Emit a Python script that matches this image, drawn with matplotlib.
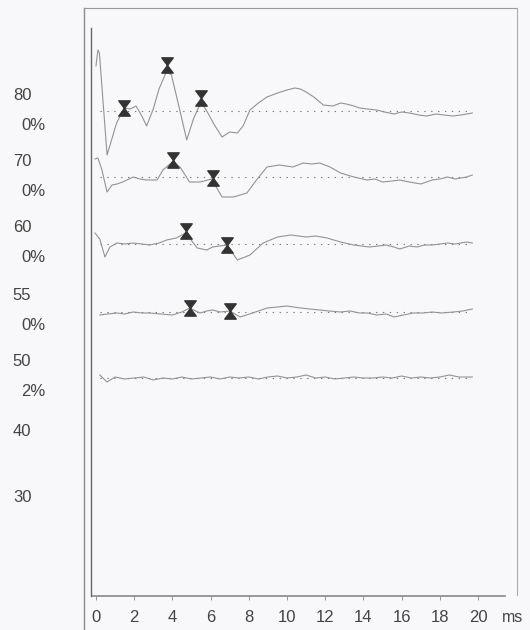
import matplotlib
matplotlib.use('Agg')
import matplotlib.pyplot as plt
from matplotlib.path import Path
from matplotlib.lines import Line2D
import numpy as np

plt.rcParams['font.family'] = ['Liberation Sans', 'DejaVu Sans']

## stimulus levels (dB) and the % values printed under them ##
levels = ['80', '70', '60', '55', '50', '40', '30']
percents = ['0%', '0%', '0%', '0%', '2%', '', '']

## waveform samples: time (ms) and amplitude (arbitrary units) ##
t80 = [0.0, 0.1, 0.18, 0.58, 0.8, 1.08, 1.48, 1.8, 2.1, 2.4, 2.65, 3.0, 3.3, 3.7, 3.95, 4.3, 4.75,
       5.1, 5.5, 5.8, 6.2, 6.6, 7.0, 7.4, 7.7, 8.06, 8.5, 8.95, 9.5, 10.0, 10.4, 10.7, 11.0, 11.4,
       11.9, 12.4, 12.8, 13.1, 13.5, 13.8, 14.2, 14.7, 15.1, 15.6, 16.0, 16.4, 16.9, 17.3, 17.8,
       18.2, 18.7, 19.1, 19.4, 19.7]
a80 = [45, 61, 58, -44, -30, -12, 3, 2, 5, -5, -15, 2, 22, 40, 36, 8, -29,
       -8, 9, 0, -14, -26, -21, -22, -15, 1, 8, 14, 18, 21, 23, 22, 19, 14,
       6, 5, 8, 7, 5, 3, 2, 1, -1, -3, -1, -2, -4, -5, -3,
       -4, -5, -4, -3, -2]
m80_t = [1.48, 3.7, 5.5]
m80_a = [3, 46, 13]

t70 = [-0.05, 0.1, 0.3, 0.58, 0.84, 1.1, 1.4, 1.95, 2.3, 2.65, 3.2, 3.5, 4.0, 4.4, 4.9, 5.45,
       6.05, 6.6, 7.2, 7.9, 8.4, 8.95, 9.6, 10.3, 10.85, 11.3, 11.7, 12.25, 12.8, 13.5, 14.2, 14.6,
       15.0, 15.5, 15.9, 16.4, 17.0, 17.6, 18.0, 18.4, 18.8, 19.1, 19.4, 19.7]
a70 = [18, 19, 8, -15, -8, -7, -5, 0, -2, -3, -3, 7, 15, 10, -5, -5,
       -2, -20, -20, -16, -3, 10, 12, 10, 14, 13, 14, 10, 4, 0, -3, -2,
       -5, -4, -3, -5, -7, -3, -2, 0, -2, -1, 0, 2]
m70_t = [4.03, 6.1]
m70_a = [17, -1]

t60 = [-0.05, 0.2, 0.47, 0.73, 1.1, 1.5, 1.95, 2.4, 2.8, 3.3, 3.7, 4.2, 4.7, 5.3, 5.8, 6.1,
       6.85, 7.4, 8.06, 8.75, 9.5, 10.2, 10.6, 11.0, 11.5, 12.1, 12.8, 13.5, 13.9, 14.3, 14.8,
       15.2, 15.6, 15.9, 16.4, 16.8, 17.2, 17.6, 18.0, 18.4, 18.8, 19.1, 19.4, 19.7]
a60 = [11, 5, -13, -3, 1, 0, 1, 0, -1, 1, 4, 6, 11, -4, -6, -3,
       -1, -16, -11, 1, 7, 9, 8, 7, 8, 6, 2, -1, -2, -3, -2,
       -1, -3, -5, -2, -3, -1, -1, 0, 1, 0, 1, 2, 1]
m60_t = [4.7, 6.85]
m60_a = [13, -1]

t55 = [0.2, 0.6, 1.1, 1.5, 1.95, 2.4, 2.8, 3.4, 4.0, 4.5, 4.9, 5.45, 5.8, 6.1, 6.5, 7.0,
       7.55, 8.2, 8.95, 9.5, 10.0, 10.7, 11.2, 11.7, 12.2, 12.8, 13.3, 13.8, 14.2, 14.7, 15.2,
       15.6, 16.1, 16.6, 17.1, 17.6, 18.1, 18.7, 19.2, 19.7]
a55 = [-3, -2, -1, -2, 0, -1, -1, -2, -3, 0, 4, -1, 1, 2, 0, 1,
       -5, -1, 4, 5, 6, 4, 3, 2, 1, 0, 1, -1, -1, -3, -2,
       -5, -3, -1, -1, 0, -1, 0, 1, 3]
m55_t = [4.9, 7.0]
m55_a = [4, 1]

t50 = [0.2, 0.58, 1.0, 1.5, 2.0, 2.5, 3.0, 3.5, 4.0, 4.5, 5.0, 5.5, 6.0, 6.5, 7.0, 7.5, 8.0,
       8.5, 9.0, 9.5, 10.0, 10.5, 11.0, 11.5, 12.0, 12.5, 13.0, 13.5, 14.0, 14.5, 15.0, 15.5,
       16.0, 16.5, 17.0, 17.5, 18.0, 18.5, 19.0, 19.5, 19.7]
a50 = [3, -4, 1, -1, 0, 1, -2, 0, -1, 1, -1, 0, 1, -1, 1, 0, 1,
       -1, 1, 2, 0, 1, 3, 0, 1, -1, 0, 1, 0, 0, 1, 0,
       2, 0, 1, 0, 1, 3, 1, 1, 1]

traces = [(t80, a80, m80_t, m80_a), (t70, a70, m70_t, m70_a), (t60, a60, m60_t, m60_a),
          (t55, a55, m55_t, m55_a), (t50, a50, [], [])]

xticks = [0, 2, 4, 6, 8, 10, 12, 14, 16, 18, 20]


def main():
    fig = plt.figure(figsize=(5.3, 6.3), dpi=100, facecolor='#f8f8fa')
    ax = fig.add_axes([91 / 530, 34 / 630, 414 / 530, 568 / 630])
    ax.set_facecolor('#f8f8fa')
    ax.set_xlim(-0.26, 21.41)
    ax.set_ylim(0, 568)

    # vertical position of each level row (baselines), top to bottom
    rows = [485, 419, 352, 284, 218, 148, 83]

    hour = Path([(-0.75, 1), (0.75, 1), (0, 0), (-0.75, 1),
                 (0, 0), (-0.75, -1), (0.75, -1), (0, 0)],
                [Path.MOVETO, Path.LINETO, Path.LINETO, Path.CLOSEPOLY,
                 Path.MOVETO, Path.LINETO, Path.LINETO, Path.CLOSEPOLY])

    for (t, a, mt, ma), base in zip(traces, rows):
        ax.plot([0.2, 19.7], [base, base], color='#777777', linewidth=0.8,
                linestyle=(0, (1.2, 5)))
        ax.plot(t, np.array(a) + base, color='#939393', linewidth=0.8)
        if mt:
            ax.plot(mt, np.array(ma) + base, linestyle='none', marker=hour,
                    markersize=11, color='#333333')

    # level / percent labels to the left
    for lev, pct, base in zip(levels, percents, rows):
        ax.text(-4.35, base + 16, lev, fontsize=12, color='#444444',
                va='center', ha='left', clip_on=False)
        if pct:
            ax.text(-3.9, base - 14, pct, fontsize=12, color='#444444',
                    va='center', ha='left', clip_on=False)

    for s in ['top', 'right']:
        ax.spines[s].set_visible(False)
    ax.spines['left'].set_color('#666666')
    ax.spines['bottom'].set_color('#888888')
    ax.spines['bottom'].set_bounds(-0.15, 21.4)
    ax.spines['left'].set_linewidth(1.0)
    ax.spines['bottom'].set_linewidth(1.2)

    ax.set_yticks([])
    ax.set_xticks(xticks)
    ax.set_xticklabels([str(x) for x in xticks])
    ax.tick_params(axis='x', direction='out', length=3, width=0.6, color='#888888',
                   pad=7, labelsize=12, labelcolor='#444444')
    ax.text(21.82, -21, 'ms', fontsize=11.5, color='#444444', va='center',
            ha='center', clip_on=False)

    # outer frame of the printout
    fig.add_artist(Line2D([84 / 530, 84 / 530], [0, 1 - 8 / 630], color='#888888',
                          linewidth=1.0, transform=fig.transFigure))
    fig.add_artist(Line2D([84 / 530, 517 / 530], [1 - 8 / 630, 1 - 8 / 630], color='#999999',
                          linewidth=0.8, transform=fig.transFigure))
    fig.add_artist(Line2D([517 / 530, 517 / 530], [1 - 8 / 630, 1 - 595 / 630], color='#aaaaaa',
                          linewidth=0.8, transform=fig.transFigure))

    fig.savefig('out.png', dpi=100, facecolor=fig.get_facecolor())


if __name__ == "__main__":
    main()
